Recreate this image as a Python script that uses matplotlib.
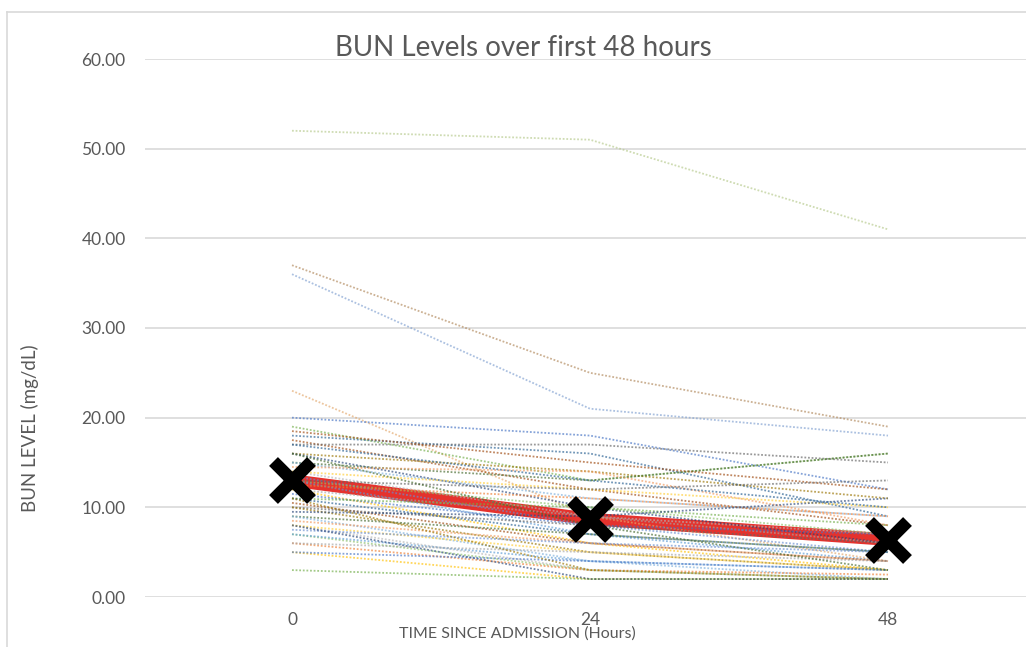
import matplotlib
matplotlib.use("Agg")
import matplotlib.pyplot as plt
from matplotlib.lines import Line2D

plt.rcParams['font.family'] = ['Lato', 'DejaVu Sans']

# Time points (hours since admission)
hours = ["0", "24", "48"]

# BUN level (mg/dL) per patient at each time point
bun_0h = [52, 37, 36, 23, 20, 19, 18, 17.5, 17, 16, 16, 15, 15, 14.5, 14, 14,
          13.5, 13, 13, 12.5, 12, 12, 11.5, 11, 11, 10.5, 10, 10, 9.5, 9, 9, 8.5,
          8, 8, 7.5, 7, 7, 6, 6, 5, 5, 3, 17, 18.5, 13, 11, 8, 16]
bun_24h = [51, 25, 21, 9, 18, 13, 16, 12, 17, 14, 10, 13, 11, 14, 9, 12,
           8, 10, 7, 11, 9, 6, 8, 10, 7, 6, 8, 5, 9, 7, 4, 6,
           3, 5, 6, 3, 4, 3, 5, 2, 4, 2, 13, 15, 12, 3, 2, 8]
bun_48h = [41, 19, 18, 4, 12, 16, 9, 8, 15, 11, 6, 16, 9, 8, 7, 10,
           5, 7, 4, 9, 6, 3, 7, 8, 5, 4, 6, 3, 11, 5, 2, 4,
           2, 3, 5, 2, 3, 2.5, 4, 2, 3, 2, 10, 12, 13, 2, 2, 3]

# Average trend
mean_bun = [13.0, 8.7, 6.4]

excel_colors = ["#5B9BD5", "#ED7D31", "#A5A5A5", "#FFC000", "#4472C4", "#70AD47",
                "#255E91", "#9E480E", "#636363", "#997300", "#264478", "#43682B",
                "#7CAFDD", "#F1975A", "#B7B7B7", "#FFCD33", "#698ED0", "#8CC168"]

W, H = 1026, 647
fig = plt.figure(figsize=(W / 100, H / 100), dpi=100)
fig.patch.set_facecolor("white")

left, right, top, bottom = 145, 1026, 59, 597
ax = fig.add_axes([left / W, 1 - bottom / H, (right - left) / W, (bottom - top) / H])

xpos = list(range(len(hours)))

# mean (thick red) line under the patient lines
ax.plot(xpos, mean_bun, color="#E3201B", lw=9, solid_capstyle="butt", zorder=2, alpha=0.92)

special = {0: "#B5C98A", 1: "#B0875A", 2: "#7F9FD0", 3: "#E3A76A"}
for i in range(len(bun_0h)):
    c = special.get(i, excel_colors[i % len(excel_colors)])
    ax.plot(xpos, [bun_0h[i], bun_24h[i], bun_48h[i]], color=c, lw=1.3,
            linestyle=(0, (1, 1)), alpha=0.65, zorder=3)

ax.plot(xpos, mean_bun, linestyle="none", marker="x", markersize=28,
        markeredgewidth=9, color="black", zorder=5)

ax.set_ylim(0, 60)
ax.set_xlim(-147 / 298, (right - 292) / 298)
ax.set_yticks(range(0, 61, 10))
ax.set_yticklabels([f"{v:.2f}" for v in range(0, 61, 10)])
ax.set_xticks(xpos)
ax.set_xticklabels(hours)
ax.tick_params(axis="both", length=0, labelsize=12.5, labelcolor="#595959")
ax.tick_params(axis="y", pad=14)
ax.tick_params(axis="x", pad=11)
ax.grid(axis="y", color="#D9D9D9", lw=1.2)
ax.set_axisbelow(True)
for s in ax.spines.values():
    s.set_visible(False)

fig.text(523 / W, 1 - 48 / H, "BUN Levels over first 48 hours", ha="center", va="center",
         fontsize=20, color="#595959")
fig.text(517 / W, 1 - 634 / H, "TIME SINCE ADMISSION (Hours)", ha="center", va="center",
         fontsize=11.5, color="#595959")
fig.text(30 / W, 1 - 428 / H, "BUN LEVEL (mg/dL)", ha="center", va="center",
         rotation=90, fontsize=13.5, color="#595959")

# chart border (left and top edges)
fig.add_artist(Line2D([7 / W, 7 / W], [0, 1 - 12 / H], color="#D9D9D9", lw=1.2))
fig.add_artist(Line2D([7 / W, 1], [1 - 12 / H, 1 - 12 / H], color="#D9D9D9", lw=1.2))

fig.savefig("out.png", dpi=100)
